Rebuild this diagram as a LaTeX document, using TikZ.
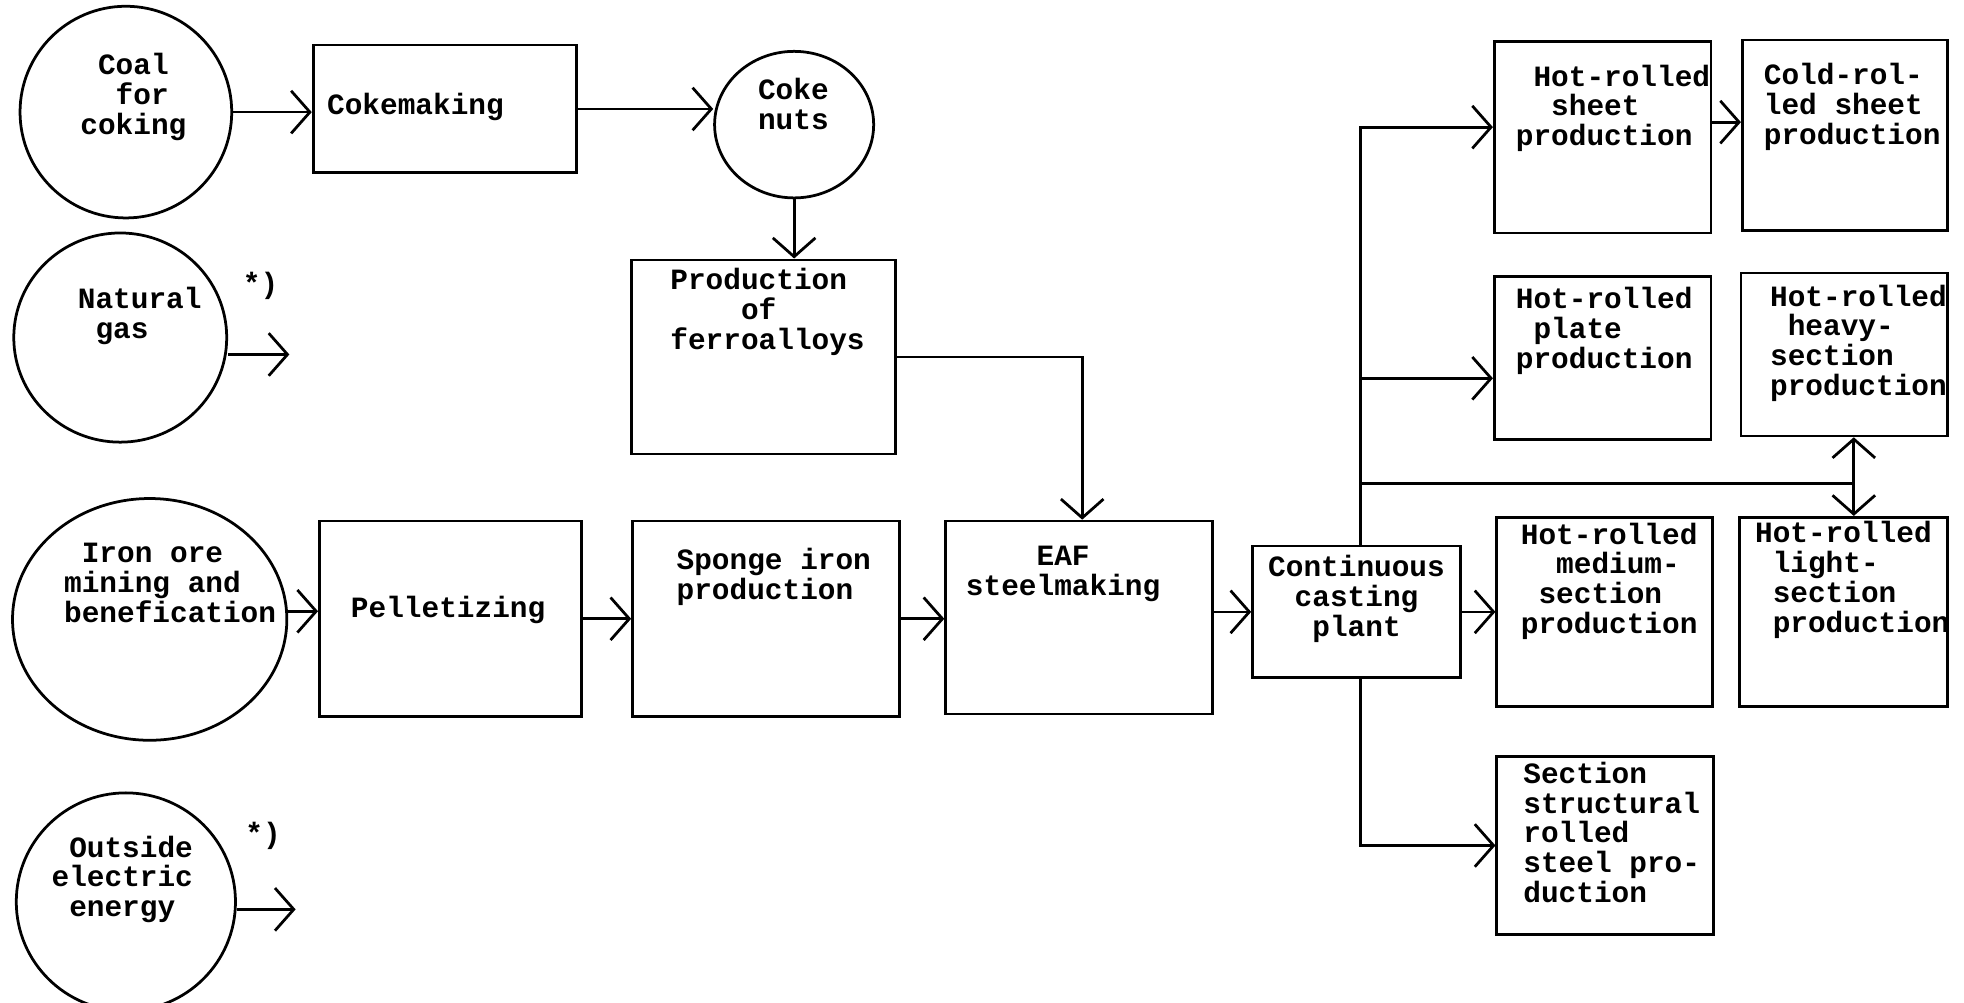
\documentclass[tikz,border=0pt]{standalone}
\usepackage{fontspec}
\setmonofont{Liberation Mono}
\usetikzlibrary{arrows.meta,shapes.geometric}
\newcommand\ic[1]{\hspace*{#1em}}
\tikzset{
  lw/.style={line width=2.2pt},
  box/.style={draw, lw, rectangle, inner sep=0pt},
  oval/.style={draw, lw, ellipse, inner sep=0pt},
  arr/.style={lw, -{Straight Barb[length=15pt,width=34pt]}},
  ln/.style={lw},
  txt/.style={font=\ttfamily\bfseries\fontsize{23.5}{23.8}\selectfont, align=left, inner sep=0pt, anchor=west},
}
\begin{document}
\begin{tikzpicture}[x=1pt,y=-1pt]
\useasboundingbox (0,0) rectangle (1568,800);
\clip (0,0) rectangle (1568,800);
% ellipses
\node[oval, minimum width=169pt, minimum height=169pt] (coal) at (100.5,89.5) {};
\node[oval, minimum width=170pt, minimum height=167pt] (natural) at (96,269.5) {};
\node[oval, minimum width=219pt, minimum height=193pt] (ironore) at (119.5,494.5) {};
\node[oval, minimum width=175pt, minimum height=174pt] (outside) at (100.5,720) {};
\node[oval, minimum width=127pt, minimum height=117pt] (cokenuts) at (634,99.5) {};
% boxes
\node[box, minimum width=210pt, minimum height=102pt] (cokemaking) at (355,87) {};
\node[box, minimum width=211pt, minimum height=155pt] (ferro) at (609.5,285) {};
\node[box, minimum width=209pt, minimum height=156pt] (pellet) at (359.5,494) {};
\node[box, minimum width=213pt, minimum height=156pt] (sponge) at (611.5,494) {};
\node[box, minimum width=213pt, minimum height=154pt] (eaf) at (861.5,493) {};
\node[box, minimum width=166pt, minimum height=105pt] (cont) at (1083,488.5) {};
\node[box, minimum width=173pt, minimum height=153pt] (sheet) at (1279.5,109.5) {};
\node[box, minimum width=164pt, minimum height=152pt] (cold) at (1473,108) {};
\node[box, minimum width=173pt, minimum height=130pt] (plate) at (1279.5,286) {};
\node[box, minimum width=165pt, minimum height=130pt] (heavy) at (1472.5,283) {};
\node[box, minimum width=172pt, minimum height=151pt] (medium) at (1281,488.5) {};
\node[box, minimum width=166pt, minimum height=151pt] (light) at (1472,488.5) {};
\node[box, minimum width=173pt, minimum height=142pt] (section) at (1281.5,675) {};
% texts
\node[txt] (t1) at (64,77.5) {\ic{0.6}Coal\\\ic{1.2}for\\coking};
\node[txt] (t2) at (62,252.5) {Natural\\\ic{0.6}gas};
\node[txt] (t3) at (51,465.5) {\ic{0.6}Iron ore\\mining and\\benefication};
\node[txt] (t4) at (41,702) {\ic{0.6}Outside\\electric\\\ic{0.6}energy};
\node[txt] (t5) at (261,85) {Cokemaking};
\node[txt] (t6) at (605,83) {Coke\\nuts};
\node[txt] (t7) at (535,249) {Production\\\ic{2.4}of\\ferroalloys};
\node[txt] (t8) at (280,487) {Pelletizing};
\node[txt] (t9) at (540,460.5) {Sponge iron\\production};
\node[txt] (t10) at (771,458) {\ic{2.4}EAF\\steelmaking};
\node[txt, align=center, anchor=center] (t11) at (1083,478) {Continuous\\casting\\plant};
\node[txt] (t12) at (1210,86.5) {\ic{0.6}Hot-rolled\\\ic{1.2}sheet\\production};
\node[txt] (t13) at (1408,85.5) {Cold-rol-\\led sheet\\production};
\node[txt] (t14) at (1210,264) {Hot-rolled\\\ic{0.6}plate\\production};
\node[txt] (t15) at (1413,274) {Hot-rolled\\\ic{0.6}heavy-\\section\\production};
\node[txt] (t16) at (1214,464) {Hot-rolled\\\ic{1.2}medium-\\\ic{0.6}section\\production};
\node[txt] (t17) at (1401,463) {Hot-rolled\\\ic{0.6}light-\\\ic{0.6}section\\\ic{0.6}production};
\node[txt] (t18) at (1216,664.5) {Section\\structural\\rolled\\steel pro-\\duction};
\node[txt, anchor=center] (st1) at (208,228) {*)};
\node[txt, anchor=center] (st2) at (210,667) {*)};
% coordinates
\coordinate (ng) at (231,283);
\coordinate (oe) at (236,726);
\coordinate (p1) at ([yshift=6pt]pellet.west);
\coordinate (en) at ([xshift=2.5pt]eaf.north);
\coordinate (tr) at ([xshift=3pt]cont.north);
\coordinate (tb) at ([xshift=3pt]cont.south);
\coordinate (s1) at ([yshift=8pt]sheet.west);
\coordinate (s2) at ([yshift=12pt]sheet.east);
\coordinate (p2) at ([yshift=-16pt]plate.west);
\coordinate (jn) at (1480,386);
% connectors
\draw[arr] (coal.east) -- (coal.east -| cokemaking.west);
\draw[arr] (cokemaking.east) -- (cokemaking.east -| cokenuts.west);
\draw[arr] (cokenuts.south) -- (cokenuts.south |- ferro.north);
\draw[arr] (ferro.east) -| (en);
\draw[arr] (ng -| natural.east) -- (ng);
\draw[arr] (oe -| outside.east) -- (oe);
\draw[arr] (p1 -| ironore.east) -- (p1);
\draw[arr] (pellet.east) -- (pellet.east -| sponge.west);
\draw[arr] (sponge.east) -- (sponge.east -| eaf.west);
\draw[arr] (eaf.east |- cont.west) -- (cont.west);
\draw[arr] (cont.east) -- (cont.east -| medium.west);
\draw[arr] (tr) |- (s1);
\draw[arr] (tr |- p2) -- (p2);
\draw[ln] (tr |- jn) -- (jn);
\draw[arr] (jn) -- (jn |- heavy.south);
\draw[arr] (jn) -- (jn |- light.north);
\draw[arr] (tb) |- (section.west);
\draw[arr] (s2) -- (s2 -| cold.west);
\end{tikzpicture}
\end{document}
